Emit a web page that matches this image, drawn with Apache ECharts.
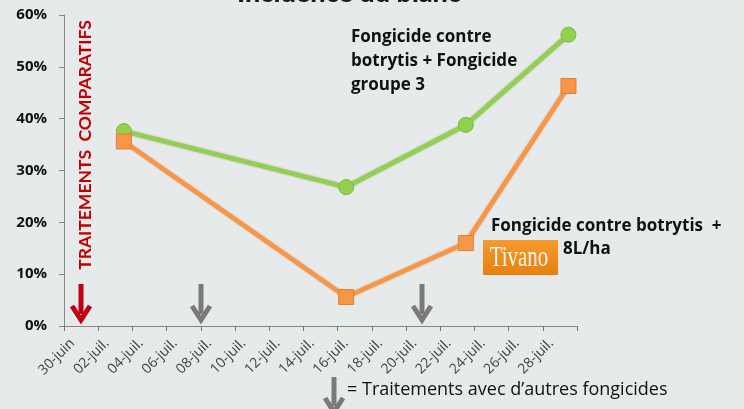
<!DOCTYPE html>
<html>
<head>
<meta charset="utf-8">
<script src="https://cdn.jsdelivr.net/npm/echarts@6/dist/echarts.min.js"></script>
<style>
  html, body { margin: 0; padding: 0; background: #e7eaeb; }
  #chart { width: 744px; height: 409px; }
</style>
</head>
<body>
<div id="chart"></div>
<script>
// one category per day, labels every other day
const days = ['30-juin', '01-juil.', '02-juil.', '03-juil.', '04-juil.', '05-juil.', '06-juil.', '07-juil.',
  '08-juil.', '09-juil.', '10-juil.', '11-juil.', '12-juil.', '13-juil.', '14-juil.', '15-juil.',
  '16-juil.', '17-juil.', '18-juil.', '19-juil.', '20-juil.', '21-juil.', '22-juil.', '23-juil.',
  '24-juil.', '25-juil.', '26-juil.', '27-juil.', '28-juil.', '29-juil.'];
const obsDates = ['03-juil.', '16-juil.', '23-juil.', '29-juil.'];
const groupe3 = [37.6, 26.8, 38.8, 56.2];   // Fongicide contre botrytis + Fongicide groupe 3
const tivano = [35.6, 5.6, 16.0, 46.3];     // Fongicide contre botrytis + Tivano 8L/ha
const yTicks = [0, 10, 20, 30, 40, 50, 60];

const chart = echarts.init(document.getElementById('chart'));

function arrowGroup(x, y0, y1, color) {
  return [
    { type: 'line', shape: { x1: x, y1: y0, x2: x, y2: y1 - 6 }, style: { stroke: color, lineWidth: 5 } },
    { type: 'polyline', shape: { points: [[x - 9, y1 - 14], [x, y1], [x + 9, y1 - 14]] },
      style: { stroke: color, lineWidth: 5, fill: null, lineJoin: 'miter' } }
  ];
}

const option = {
  backgroundColor: '#e7eaeb',
  animation: false,
  grid: { left: 64, right: 167, top: 15, bottom: 83, outerBoundsMode: 'none' },
  xAxis: {
    type: 'category',
    data: days,
    boundaryGap: true,
    axisLine: { lineStyle: { color: '#868686', width: 1 } },
    axisTick: { show: true, interval: 1, length: 5, lineStyle: { color: '#777', width: 1 } },
    axisLabel: {
      interval: 1, rotate: 45, margin: 15,
      fontFamily: 'Open Sans', fontSize: 14, color: '#404040'
    }
  },
  yAxis: {
    type: 'value',
    min: yTicks[0], max: yTicks[yTicks.length - 1], interval: 10,
    axisLine: { show: true, lineStyle: { color: '#868686' } },
    axisTick: { show: true, length: 5, lineStyle: { color: '#868686' } },
    splitLine: { show: false },
    axisLabel: {
      formatter: '{value}%', margin: 17,
      fontFamily: 'Open Sans', fontWeight: 'bold', fontSize: 15, color: '#111'
    }
  },
  series: [
    {
      name: 'Fongicide contre botrytis + Fongicide groupe 3',
      type: 'line',
      data: obsDates.map((d, i) => [d, groupe3[i]]),
      showAllSymbol: true,
      symbol: 'circle', symbolSize: 15,
      lineStyle: { color: '#92d050', width: 4.5, shadowColor: 'rgba(90,140,40,0.7)', shadowBlur: 2 },
      itemStyle: { color: '#92d050', borderColor: '#7cb83e', borderWidth: 1 }
    },
    {
      name: 'Fongicide contre botrytis + Tivano 8L/ha',
      type: 'line',
      data: obsDates.map((d, i) => [d, tivano[i]]),
      showAllSymbol: true,
      symbol: 'rect', symbolSize: 15,
      lineStyle: { color: '#f79646', width: 4.5, shadowColor: 'rgba(210,110,40,0.7)', shadowBlur: 2 },
      itemStyle: { color: '#f79646', borderColor: '#e0812f', borderWidth: 1 }
    }
  ],
  graphic: [
    { type: 'text', x: 349, y: 7,
      style: { text: 'Incidence du blanc', align: 'center', verticalAlign: 'bottom',
        font: '900 27px Lato', fill: '#1a1a1a' } },
    { type: 'text', x: 85, y: 145, rotation: Math.PI / 2,
      style: { text: 'TRAITEMENTS  COMPARATIFS', align: 'center', verticalAlign: 'middle',
        font: 'bold 17.5px Lato', fill: '#c00000' } },
    { type: 'text', x: 351, y: 25,
      style: { text: 'Fongicide contre\nbotrytis + Fongicide\ngroupe 3', lineHeight: 24,
        font: 'bold 17px "Open Sans"', fill: '#111' } },
    { type: 'text', x: 491, y: 218,
      style: { text: 'Fongicide contre botrytis  +', font: 'bold 17px "Open Sans"', fill: '#111' } },
    { type: 'rect', shape: { x: 483, y: 240, width: 75, height: 35 },
      style: { fill: new echarts.graphic.LinearGradient(0, 0, 0, 1,
        [{ offset: 0, color: '#f59a2e' }, { offset: 1, color: '#e8800f' }]) } },
    { type: 'text', x: 519, y: 258, scaleX: 0.72,
      style: { text: 'Tivano', align: 'center', verticalAlign: 'middle',
        font: '29px "Liberation Serif"', fill: '#fff8ee' } },
    { type: 'text', x: 563, y: 241,
      style: { text: '8L/ha', font: 'bold 17px "Open Sans"', fill: '#111' } },
    ...arrowGroup(81, 284, 320, '#c00010'),
    ...arrowGroup(201, 284, 320, '#7a7a7a'),
    ...arrowGroup(422, 284, 320, '#7a7a7a'),
    ...arrowGroup(334, 377, 412, '#7a7a7a'),
    { type: 'text', x: 347, y: 381,
      style: { text: '= Traitements avec d\u2019autres fongicides', font: '18px "Open Sans"', fill: '#111' } }
  ]
};

chart.setOption(option);
</script>
</body>
</html>
